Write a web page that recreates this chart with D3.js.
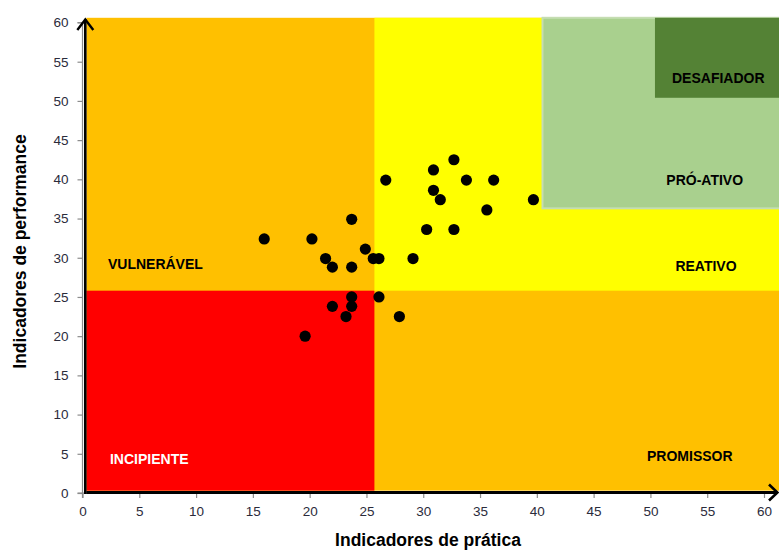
<!DOCTYPE html>
<html>
<head>
<meta charset="utf-8">
<script src="https://cdn.jsdelivr.net/npm/d3@7"></script>
<style>
  html, body { margin: 0; padding: 0; background: #fff; }
  svg { display: block; }
  text { font-family: "Liberation Sans", Arial, sans-serif; }
</style>
</head>
<body>
<svg id="chart" width="779" height="551"></svg>
<script>
// ---------------- DATA ----------------
const xTicks = [0, 5, 10, 15, 20, 25, 30, 35, 40, 45, 50, 55, 60];
const yTicks = [0, 5, 10, 15, 20, 25, 30, 35, 40, 45, 50, 55, 60];

// Each point: practice indicator (x) and performance indicator (y)
const pratica = [16.0, 20.2, 23.7, 24.9, 21.4, 22.0, 23.7, 25.6, 26.1, 29.1,
                 26.7, 30.9, 32.7, 33.8, 36.2, 30.9, 31.5, 39.7, 35.6, 30.3,
                 32.7, 23.7, 26.1, 22.0, 23.7, 23.2, 27.9, 19.6];
const performance = [32.4, 32.4, 34.9, 31.1, 29.9, 28.8, 28.8, 29.9, 29.9, 29.9,
                     39.9, 41.2, 42.5, 39.9, 39.9, 38.6, 37.4, 37.4, 36.1, 33.6,
                     33.6, 25.0, 25.0, 23.8, 23.8, 22.5, 22.5, 20.0];

// Zone boundaries (data units)
const zoneNames = ["BASE", "INCIPIENTE", "REATIVO", "PRÓ-ATIVO", "DESAFIADOR"];
const zoneX0 = [0.35, 0.35, 25.7, 40.5, 50.4];
const zoneX1 = [61.5, 25.7, 61.5, 61.5, 61.5];
const zoneY0 = [0.3, 0.3, 25.8, 36.3, 50.4];
const zoneY1 = [60.6, 25.8, 60.6, 60.6, 60.6];

const labelNames = ["VULNERÁVEL", "INCIPIENTE", "REATIVO", "PROMISSOR", "PRÓ-ATIVO", "DESAFIADOR"];
const labelX = [2.24, 2.42, 52.2, 49.7, 51.4, 51.9];
const labelY = [28.56, 3.7, 28.3, 4.14, 39.3, 52.3];

const xTitle = "Indicadores de prática";
const yTitle = "Indicadores de performance";

// ---------------- STYLES ----------------
const zoneFill = {
  "BASE": "#FFC000",
  "INCIPIENTE": "#FF0000",
  "REATIVO": "#FFFF00",
  "PRÓ-ATIVO": "#A9D08E",
  "DESAFIADOR": "#548235"
};
const labelColor = { "INCIPIENTE": "#ffffff" };

// ---------------- CHART ----------------
const svg = d3.select("#chart");
const x = d3.scaleLinear().domain([0, 60]).range([82.5, 764]);
const y = d3.scaleLinear().domain([0, 60]).range([493, 22.5]);

// zones
const zones = zoneNames.map((n, i) => ({ n, x0: zoneX0[i], x1: zoneX1[i], y0: zoneY0[i], y1: zoneY1[i] }));
svg.append("g").selectAll("rect").data(zones).join("rect")
  .attr("x", d => x(d.x0))
  .attr("y", d => y(d.y1))
  .attr("width", d => x(d.x1) - x(d.x0))
  .attr("height", d => y(d.y0) - y(d.y1))
  .attr("fill", d => zoneFill[d.n])
  .attr("stroke", d => d.n === "PRÓ-ATIVO" ? "#c5ddb2" : "none")
  .attr("stroke-width", 2);

// Excel-style grey axes with ticks
const yAxis = d3.axisLeft(y).tickValues(yTicks).tickSize(5).tickPadding(9).tickFormat(d3.format("d"));
const xAxis = d3.axisBottom(x).tickValues(xTicks).tickSize(5).tickPadding(8).tickFormat(d3.format("d"));

const gy = svg.append("g").attr("transform", `translate(${x(0)},0)`).call(yAxis);
const gx = svg.append("g").attr("transform", `translate(0,${y(0)})`).call(xAxis);
[gx, gy].forEach(g => {
  g.select(".domain").attr("stroke", "#8c8c8c").attr("stroke-width", 1.2);
  g.selectAll(".tick line").attr("stroke", "#8c8c8c").attr("stroke-width", 1.2);
  g.selectAll(".tick text").attr("fill", "#2b2b3b").style("font-size", "13.5px")
    .style("font-family", '"Liberation Sans", Arial, sans-serif');
});
gy.select(".domain").attr("d", `M-5,${y(0)}H0V${y(60)}H-5`);
gx.select(".domain").attr("d", `M${x(0)},5V0H${x(60) + 8}`);

// black arrows
const arrows = svg.append("g").attr("stroke", "#000").attr("fill", "none").attr("stroke-linecap", "butt");
const ax = x(0) + 2.8;
const ayB = y(0) - 0.5;
arrows.append("line").attr("x1", ax).attr("y1", ayB + 1.5).attr("x2", ax).attr("y2", 19).attr("stroke-width", 2.6);
arrows.append("path").attr("d", `M${ax - 8},30 L${ax},19.5 L${ax + 8},30`).attr("stroke-width", 2.4);
arrows.append("line").attr("x1", ax + 1).attr("y1", ayB).attr("x2", 777).attr("y2", ayB).attr("stroke-width", 3);
arrows.append("path").attr("d", `M769,${ayB - 8} L777.5,${ayB} L769,${ayB + 8}`).attr("stroke-width", 2.6);

// points
svg.append("g").selectAll("circle").data(pratica.map((v, i) => [v, performance[i]])).join("circle")
  .attr("cx", d => x(d[0]))
  .attr("cy", d => y(d[1]))
  .attr("r", 5.6)
  .attr("fill", "#000");

// zone labels
svg.append("g").selectAll("text").data(labelNames.map((n, i) => ({ n, lx: labelX[i], ly: labelY[i] }))).join("text")
  .attr("x", d => x(d.lx))
  .attr("y", d => y(d.ly))
  .attr("fill", d => labelColor[d.n] || "#000")
  .style("font-size", "14px")
  .style("font-weight", "bold")
  .text(d => d.n);

// axis titles
svg.append("text")
  .attr("x", 428).attr("y", 546)
  .attr("text-anchor", "middle")
  .style("font-size", "17.5px").style("font-weight", "bold").attr("fill", "#000")
  .text(xTitle);
svg.append("text")
  .attr("transform", "translate(26,251.5) rotate(-90)")
  .attr("text-anchor", "middle")
  .style("font-size", "17.5px").style("font-weight", "bold").attr("fill", "#000")
  .text(yTitle);
</script>
</body>
</html>
